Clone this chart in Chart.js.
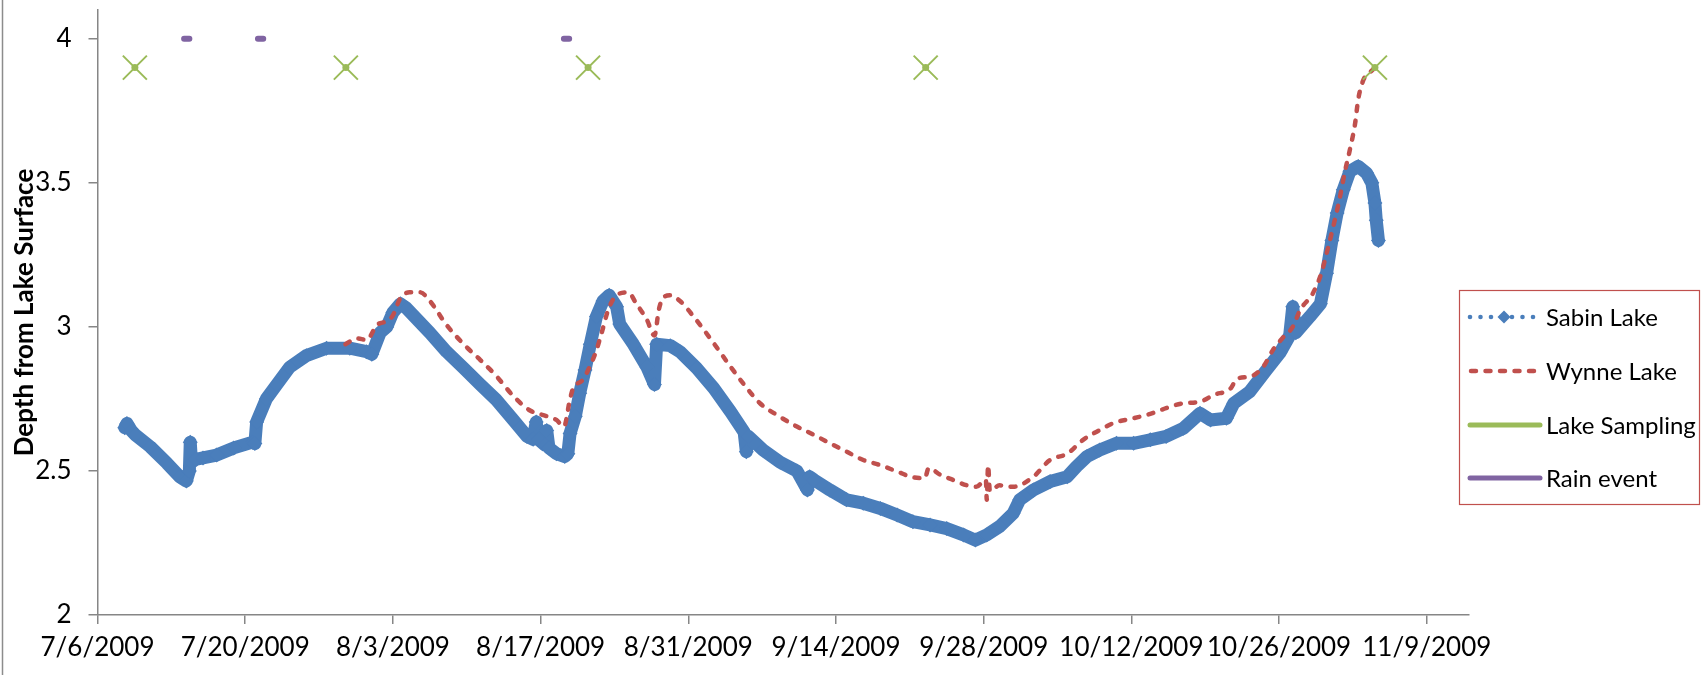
<!DOCTYPE html>
<html>
<head>
<meta charset="utf-8">
<script src="https://cdn.jsdelivr.net/npm/chart.js@4.4.0/dist/chart.umd.min.js"></script>
<style>
  html, body { margin: 0; padding: 0; background: #ffffff; }
  #wrap { width: 1704px; height: 675px; position: relative; }
</style>
</head>
<body>
<div id="wrap"><canvas id="chart" width="1704" height="675"></canvas></div>
<script>
// ---- axis ranges and ticks ----
const xMinDate = '2009-07-06';
const xMaxDate = '2009-11-13';
const xTickDates = ['2009-07-06', '2009-07-20', '2009-08-03', '2009-08-17', '2009-08-31',
  '2009-09-14', '2009-09-28', '2009-10-12', '2009-10-26', '2009-11-09'];
const yMin = 2;
const yMax = 4.1;
const yTicks = [2, 2.5, 3, 3.5, 4];

// ---- Sabin Lake logger depth (m) ----
const sabinTimes = [
  '2009-07-08T14', '2009-07-08T19', '2009-07-09T05', '2009-07-09T14', '2009-07-11T00',
  '2009-07-12T14', '2009-07-13T19', '2009-07-14T10', '2009-07-14T17', '2009-07-14T19',
  '2009-07-14T22', '2009-07-15T07', '2009-07-16T00', '2009-07-17T07', '2009-07-18T22',
  '2009-07-20T17', '2009-07-20T22', '2009-07-21T02', '2009-07-22T00', '2009-07-23T00',
  '2009-07-24T05', '2009-07-25T19', '2009-07-27T17', '2009-07-29T22', '2009-07-31T12',
  '2009-08-01T00', '2009-08-01T19', '2009-08-02T10', '2009-08-03T00', '2009-08-03T17',
  '2009-08-04T07', '2009-08-06T12', '2009-08-08T02', '2009-08-09T17', '2009-08-11T07',
  '2009-08-12T19', '2009-08-14T10', '2009-08-15T17', '2009-08-16T07', '2009-08-16T14',
  '2009-08-16T19', '2009-08-17T10', '2009-08-17T14', '2009-08-17T19', '2009-08-18T12',
  '2009-08-19T07', '2009-08-19T14', '2009-08-19T19', '2009-08-20T07', '2009-08-20T17',
  '2009-08-21T05', '2009-08-21T17', '2009-08-22T07', '2009-08-22T22', '2009-08-23T12',
  '2009-08-24T05', '2009-08-24T12', '2009-08-25T19', '2009-08-27T02', '2009-08-27T19',
  '2009-08-28T00', '2009-08-29T07', '2009-08-30T05', '2009-08-31T19', '2009-09-02T10',
  '2009-09-04T00', '2009-09-05T07', '2009-09-05T12', '2009-09-05T17', '2009-09-07T02',
  '2009-09-08T17', '2009-09-10T07', '2009-09-11T07', '2009-09-11T12', '2009-09-11T22',
  '2009-09-13T10', '2009-09-15T00', '2009-09-16T14', '2009-09-18T05', '2009-09-19T19',
  '2009-09-21T07', '2009-09-22T22', '2009-09-24T12', '2009-09-26T02', '2009-09-27T05',
  '2009-09-28T07', '2009-09-29T12', '2009-09-30T19', '2009-10-01T10', '2009-10-02T17',
  '2009-10-04T07', '2009-10-05T22', '2009-10-06T19', '2009-10-07T19', '2009-10-09T00',
  '2009-10-10T14', '2009-10-12T05', '2009-10-13T19', '2009-10-15T07', '2009-10-16T22',
  '2009-10-18T12', '2009-10-19T12', '2009-10-21T00', '2009-10-21T17', '2009-10-23T05',
  '2009-10-24T19', '2009-10-26T02', '2009-10-27T00', '2009-10-27T07', '2009-10-27T14',
  '2009-10-28T22', '2009-10-29T22', '2009-10-30T12', '2009-10-31T00', '2009-10-31T12',
  '2009-11-01T02', '2009-11-01T17', '2009-11-02T12', '2009-11-03T07', '2009-11-03T19',
  '2009-11-04T02', '2009-11-04T05', '2009-11-04T10'
];
const sabinDepth = [
  2.65, 2.665, 2.64, 2.625, 2.584,
  2.527, 2.48, 2.465, 2.50, 2.60,
  2.53, 2.54, 2.545, 2.555, 2.58,
  2.60, 2.595, 2.67, 2.75, 2.80,
  2.86, 2.90, 2.926, 2.926, 2.914,
  2.905, 2.98, 3.00, 3.05, 3.08,
  3.065, 2.98, 2.914, 2.857, 2.80,
  2.747, 2.677, 2.62, 2.61, 2.67,
  2.61, 2.59, 2.64, 2.58, 2.56,
  2.55, 2.56, 2.63, 2.69, 2.77,
  2.85, 2.94, 3.036, 3.09, 3.11,
  3.07, 3.01, 2.94, 2.86, 2.80,
  2.94, 2.935, 2.914, 2.857, 2.787,
  2.706, 2.635, 2.567, 2.62, 2.573,
  2.53, 2.50, 2.434, 2.48, 2.469,
  2.434, 2.40, 2.388, 2.37, 2.347,
  2.324, 2.3125, 2.30, 2.278, 2.26,
  2.278, 2.307, 2.353, 2.40, 2.434,
  2.463, 2.48, 2.515, 2.55, 2.573,
  2.596, 2.596, 2.608, 2.62, 2.648,
  2.70, 2.677, 2.683, 2.735, 2.775,
  2.85, 2.91, 2.97, 3.07, 2.98,
  3.036, 3.08, 3.186, 3.30, 3.395,
  3.476, 3.54, 3.557, 3.534, 3.50,
  3.43, 3.37, 3.30
];

// ---- Wynne Lake logger depth (m) ----
const wynneTimes = [
  '2009-07-29T12', '2009-07-30T14', '2009-07-31T12', '2009-08-01T12', '2009-08-02T10',
  '2009-08-03T00', '2009-08-03T17', '2009-08-04T14', '2009-08-05T14', '2009-08-06T12',
  '2009-08-08T02', '2009-08-09T17', '2009-08-11T07', '2009-08-12T19', '2009-08-14T10',
  '2009-08-16T00', '2009-08-17T14', '2009-08-18T12', '2009-08-19T05', '2009-08-19T19',
  '2009-08-20T02', '2009-08-21T00', '2009-08-21T12', '2009-08-22T05', '2009-08-22T19',
  '2009-08-23T10', '2009-08-24T05', '2009-08-25T07', '2009-08-26T02', '2009-08-27T02',
  '2009-08-27T19', '2009-08-28T05', '2009-08-28T14', '2009-08-29T07', '2009-08-30T05',
  '2009-08-31T12', '2009-09-02T10', '2009-09-04T00', '2009-09-05T12', '2009-09-06T19',
  '2009-09-08T10', '2009-09-10T07', '2009-09-11T22', '2009-09-13T10', '2009-09-15T00',
  '2009-09-16T14', '2009-09-18T05', '2009-09-19T19', '2009-09-21T07', '2009-09-22T10',
  '2009-09-22T19', '2009-09-23T22', '2009-09-25T02', '2009-09-26T10', '2009-09-27T07',
  '2009-09-28T05', '2009-09-28T07', '2009-09-28T10', '2009-09-28T14', '2009-09-29T12',
  '2009-09-30T19', '2009-10-02T17', '2009-10-04T07', '2009-10-05T22', '2009-10-07T10',
  '2009-10-09T00', '2009-10-10T07', '2009-10-12T05', '2009-10-13T19', '2009-10-15T07',
  '2009-10-16T22', '2009-10-18T12', '2009-10-19T19', '2009-10-21T10', '2009-10-22T00',
  '2009-10-23T05', '2009-10-24T12', '2009-10-25T10', '2009-10-26T07', '2009-10-27T07',
  '2009-10-28T00', '2009-10-29T05', '2009-10-30T00', '2009-10-30T14', '2009-10-31T05',
  '2009-10-31T17', '2009-11-01T05', '2009-11-01T17', '2009-11-02T05', '2009-11-02T12',
  '2009-11-03T00', '2009-11-03T17', '2009-11-04T02'
];
const wynneDepth = [
  2.94, 2.96, 2.955, 3.007, 3.02,
  3.04, 3.10, 3.12, 3.12, 3.09,
  3.007, 2.94, 2.885, 2.83, 2.76,
  2.71, 2.69, 2.677, 2.654, 2.75,
  2.787, 2.816, 2.85, 2.91, 2.98,
  3.06, 3.11, 3.12, 3.08, 3.024,
  2.97, 3.06, 3.10, 3.11, 3.09,
  3.036, 2.943, 2.862, 2.79, 2.735,
  2.694, 2.654, 2.625, 2.596, 2.567,
  2.538, 2.52, 2.498, 2.478, 2.475,
  2.51, 2.486, 2.469, 2.45, 2.445,
  2.47, 2.40, 2.52, 2.43, 2.45,
  2.445, 2.48, 2.538, 2.56, 2.608,
  2.642, 2.666, 2.683, 2.698, 2.718,
  2.735, 2.74, 2.764, 2.787, 2.82,
  2.827, 2.862, 2.92, 2.96, 3.00,
  3.059, 3.117, 3.186, 3.267, 3.36,
  3.44, 3.534, 3.615, 3.707, 3.79,
  3.858, 3.887, 3.90
];

// ---- lake sampling visits (plotted at 3.9) ----
const samplingTimes = ['2009-07-09T13', '2009-07-29T13', '2009-08-21T12', '2009-09-22T12', '2009-11-04T02'];
const samplingLevel = 3.9;

// ---- rain events (plotted at 4) ----
const rainStarts = ['2009-07-14T05', '2009-07-21T05', '2009-08-19T05'];
const rainEnds = ['2009-07-14T17', '2009-07-21T17', '2009-08-19T17'];
const rainLevel = 4;

// ---- series labels and colours ----
const seriesNames = ['Sabin Lake', 'Wynne Lake', 'Lake Sampling', 'Rain event'];
const seriesColors = ['#4A7EBB', '#C0504D', '#9BBB59', '#8064A2'];

const FONT = 'Lato, "Open Sans", "DejaVu Sans", sans-serif';

function toMs(s) {
  const [d, h] = s.split('T');
  const [Y, M, D] = d.split('-').map(Number);
  const hh = h ? Number(h.split(':')[0]) : 0;
  return Date.UTC(Y, M - 1, D, hh);
}
function fmtDate(v) {
  const d = new Date(v);
  return (d.getUTCMonth() + 1) + '/' + d.getUTCDate() + '/' + d.getUTCFullYear();
}

const sabinPts = sabinTimes.map((t, i) => ({ x: toMs(t), y: sabinDepth[i] }));
const wynnePts = wynneTimes.map((t, i) => ({ x: toMs(t), y: wynneDepth[i] }));
const samplingPts = samplingTimes.map(t => ({ x: toMs(t), y: samplingLevel }));
const rainPts = [];
rainStarts.forEach((s, i) => {
  rainPts.push({ x: toMs(s), y: rainLevel });
  rainPts.push({ x: toMs(rainEnds[i]), y: rainLevel });
  rainPts.push({ x: toMs(rainEnds[i]) + 3600000, y: null });
});

// thin frame line on the left edge of the chart area
const framePlugin = {
  id: 'frame',
  beforeDraw(chart) {
    const ctx = chart.ctx;
    ctx.save();
    ctx.strokeStyle = '#8C8C8C';
    ctx.lineWidth = 1.5;
    ctx.beginPath();
    ctx.moveTo(2.5, 0);
    ctx.lineTo(2.5, chart.height);
    ctx.stroke();
    ctx.restore();
  }
};

// boxed legend on the right
const boxLegend = {
  id: 'boxLegend',
  afterDraw(chart) {
    const ctx = chart.ctx;
    const bx = 1459.5, by = 290.5, bw = 240, bh = 214;
    const rowY = [317, 371, 425, 478];
    const x0 = 1469, x1 = 1539, tx = 1546;
    ctx.save();
    ctx.strokeStyle = '#C0504D';
    ctx.lineWidth = 1.2;
    ctx.strokeRect(bx, by, bw, bh);

    // Sabin: dotted line with diamond marker
    ctx.fillStyle = seriesColors[0];
    for (let x = x0 + 1; x <= x1; x += 10.5) {
      ctx.beginPath();
      ctx.arc(x, rowY[0], 2.3, 0, Math.PI * 2);
      ctx.fill();
    }
    const cx = (x0 + x1) / 2;
    ctx.beginPath();
    ctx.moveTo(cx, rowY[0] - 6.5);
    ctx.lineTo(cx + 6.5, rowY[0]);
    ctx.lineTo(cx, rowY[0] + 6.5);
    ctx.lineTo(cx - 6.5, rowY[0]);
    ctx.closePath();
    ctx.fill();

    // Wynne: dashed line
    ctx.strokeStyle = seriesColors[1];
    ctx.lineWidth = 4.5;
    ctx.lineCap = 'round';
    ctx.setLineDash([5, 9.5]);
    ctx.beginPath();
    ctx.moveTo(x0 + 2, rowY[1]);
    ctx.lineTo(x1, rowY[1]);
    ctx.stroke();
    ctx.setLineDash([]);

    // Sampling and rain: solid lines
    [2, 3].forEach(k => {
      ctx.strokeStyle = seriesColors[k];
      ctx.lineWidth = 5;
      ctx.beginPath();
      ctx.moveTo(x0 + 1, rowY[k]);
      ctx.lineTo(x1 + 1, rowY[k]);
      ctx.stroke();
    });

    ctx.fillStyle = '#000000';
    ctx.font = '24px ' + FONT;
    ctx.textBaseline = 'middle';
    ctx.textAlign = 'left';
    seriesNames.forEach((n, k) => ctx.fillText(n, tx, rowY[k] + 1));
    ctx.restore();
  }
};

const axisGray = '#868686';

new Chart(document.getElementById('chart'), {
  type: 'line',
  data: {
    datasets: [
      {
        label: seriesNames[0],
        data: sabinPts,
        order: 4,
        borderColor: seriesColors[0],
        backgroundColor: seriesColors[0],
        borderWidth: 13,
        borderJoinStyle: 'round',
        borderCapStyle: 'round',
        pointStyle: 'rectRot',
        pointRadius: 7.5,
        pointBorderWidth: 0,
        pointBackgroundColor: seriesColors[0],
        tension: 0
      },
      {
        label: seriesNames[1],
        data: wynnePts,
        order: 3,
        borderColor: seriesColors[1],
        borderWidth: 4.5,
        borderDash: [5, 9.5],
        borderCapStyle: 'round',
        pointRadius: 0,
        cubicInterpolationMode: 'monotone'
      },
      {
        label: seriesNames[2],
        data: samplingPts,
        order: 2,
        showLine: false,
        pointStyle: 'crossRot',
        pointRadius: 17,
        pointBorderWidth: 2,
        pointBorderColor: seriesColors[2],
        borderColor: seriesColors[2]
      },
      {
        label: seriesNames[2] + ' centre',
        data: samplingPts,
        order: 1,
        showLine: false,
        pointStyle: 'circle',
        pointRadius: 3.5,
        pointBorderWidth: 0,
        pointBackgroundColor: seriesColors[2]
      },
      {
        label: seriesNames[3],
        data: rainPts,
        order: 0,
        borderColor: seriesColors[3],
        borderWidth: 6,
        borderCapStyle: 'round',
        pointRadius: 0,
        spanGaps: false
      }
    ]
  },
  options: {
    responsive: false,
    animation: false,
    devicePixelRatio: 1,
    layout: { autoPadding: false, padding: { left: 0, top: 10, right: 235, bottom: 0 } },
    plugins: {
      legend: { display: false },
      tooltip: { enabled: false }
    },
    scales: {
      x: {
        type: 'linear',
        min: toMs(xMinDate),
        max: toMs(xMaxDate),
        afterBuildTicks: s => {
          s.ticks = xTickDates.map(t => ({ value: toMs(t) }));
          s.min = toMs(xMinDate);
          s.max = toMs(xMaxDate);
        },
        afterFit: s => { s.height = 60; s.paddingLeft = 0; s.paddingRight = 0; },
        ticks: {
          callback: v => fmtDate(v),
          font: { family: FONT, size: 26 },
          color: '#000000',
          padding: 8,
          maxRotation: 0,
          autoSkip: false
        },
        grid: { display: true, drawOnChartArea: false, drawTicks: true, tickLength: 9, color: axisGray, lineWidth: 1.5 },
        border: { display: true, color: axisGray, width: 1.5 }
      },
      y: {
        type: 'linear',
        min: yMin,
        max: yMax,
        afterBuildTicks: s => {
          s.ticks = yTicks.map(v => ({ value: v }));
          s.min = yMin;
          s.max = yMax;
        },
        afterFit: s => { s.width = 97.5; s.paddingTop = 0; s.paddingBottom = 0; },
        ticks: {
          callback: v => String(v),
          font: { family: FONT, size: 26 },
          color: '#000000',
          padding: 17
        },
        grid: { display: true, drawOnChartArea: false, drawTicks: true, tickLength: 9, color: axisGray, lineWidth: 1.5 },
        border: { display: true, color: axisGray, width: 1.5 },
        title: {
          display: true,
          text: 'Depth from Lake Surface',
          font: { family: FONT, size: 26, weight: 'bold' },
          color: '#000000',
          padding: { top: 9, bottom: 0 }
        }
      }
    }
  },
  plugins: [framePlugin, boxLegend]
});
</script>
</body>
</html>
